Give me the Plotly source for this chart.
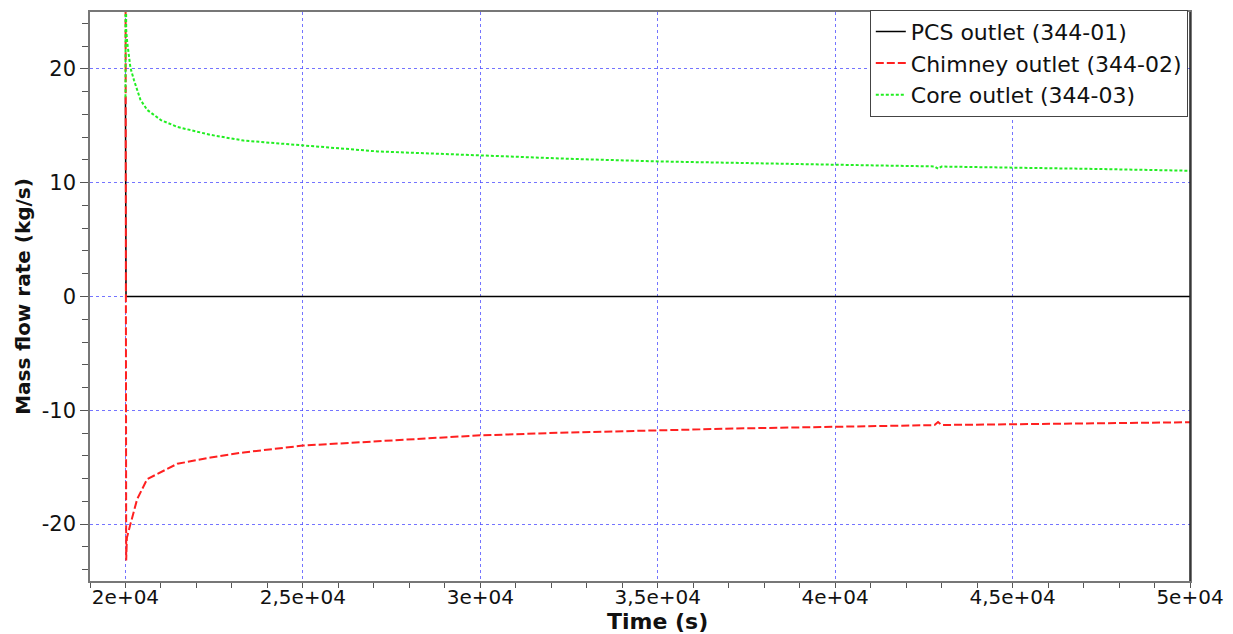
import plotly.graph_objects as go

# ---------------- data ----------------
pcs_x = [20000, 20015, 50000]
pcs_y = [17.5, 0.0, 0.0]

chimney_x = [20000, 20020, 20040, 20140, 20330, 20610, 21000, 21460, 22400, 23330,
             25000, 27100, 30000, 32500, 35000, 37500, 40000, 42800, 42900, 43000,
             45000, 47500, 50000]
chimney_y = [35.0, -23.2, -21.2, -20.0, -17.8, -16.05, -15.4, -14.7, -14.15, -13.7,
             -13.1, -12.7, -12.2, -11.95, -11.75, -11.58, -11.45, -11.3, -11.03, -11.29,
             -11.23, -11.15, -11.05]

core_x = [20000, 20005, 20020, 20050, 20140, 20240, 20420, 20610, 21000, 21460, 22400,
          23330, 25000, 27100, 30000, 32500, 35000, 37500, 40000, 42800, 42900, 43000,
          45000, 47500, 50000]
core_y = [17.5, 35.0, 23.4, 22.3, 20.1, 19.0, 17.3, 16.4, 15.5, 14.9, 14.2,
          13.7, 13.3, 12.75, 12.4, 12.1, 11.87, 11.7, 11.58, 11.43, 11.23, 11.42,
          11.34, 11.2, 11.05]

x_tickvals = [20000, 25000, 30000, 35000, 40000, 45000, 50000]
x_ticktext = ["2e+04", "2,5e+04", "3e+04", "3,5e+04", "4e+04", "4,5e+04", "5e+04"]
y_tickvals = [-20, -10, 0, 10, 20]
y_ticktext = ["-20", "-10", "0", "10", "20"]

names = ["PCS outlet (344-01)", "Chimney outlet (344-02)", "Core outlet (344-03)"]
x_title = "Time (s)"
y_title = "Mass flow rate (kg/s)"

# ---------------- figure ----------------
FONT = "DejaVu Sans"
fig = go.Figure()
fig.add_trace(go.Scatter(x=pcs_x, y=pcs_y, mode="lines", name=names[0],
                         line=dict(color="#000000", width=1.5)))
fig.add_trace(go.Scatter(x=chimney_x, y=chimney_y, mode="lines", name=names[1],
                         line=dict(color="#ff2020", width=2, dash="8px,3px")))
fig.add_trace(go.Scatter(x=core_x, y=core_y, mode="lines", name=names[2],
                         line=dict(color="#22ee22", width=2, dash="3px,2px")))

grid = dict(showgrid=True, gridcolor="rgba(70,70,255,0.75)", gridwidth=1, griddash="dot")
fig.update_layout(
    width=1225, height=626,
    paper_bgcolor="white", plot_bgcolor="white",
    margin=dict(l=82, r=43, t=4, b=53, autoexpand=False),
    font=dict(family=FONT, color="#111111", size=22),
    showlegend=True,
    legend=dict(x=0.998, y=1.004, xanchor="right", yanchor="top",
                bgcolor="white", bordercolor="#444444", borderwidth=1,
                font=dict(family=FONT, size=22, color="#111111"),
                itemwidth=30, tracegroupgap=0),
    xaxis=dict(range=[19000, 50000], tickvals=x_tickvals, ticktext=x_ticktext,
               automargin=False,
               ticks="outside", ticklen=5, tickcolor="#555555", tickwidth=1,
               ticklabelstandoff=-8,
               showline=True, linecolor="#777777", linewidth=1.5, mirror=True,
               zeroline=False, tickfont=dict(size=20),
               minor=dict(dtick=1000, tick0=0, ticks="outside", ticklen=5,
                          tickcolor="#555555", showgrid=False),
               **grid),
    yaxis=dict(range=[-25, 25], tickvals=y_tickvals, ticktext=y_ticktext,
               automargin=False,
               ticks="outside", ticklen=8, tickcolor="#555555", tickwidth=1,
               showline=True, linecolor="#777777", linewidth=1.5, mirror=True,
               zeroline=False, tickfont=dict(size=21),
               minor=dict(dtick=2, tick0=0, ticks="outside", ticklen=6,
                          tickcolor="#555555", showgrid=False),
               title=dict(text="<b>" + y_title + "</b>", font=dict(size=20), standoff=6),
               **grid),
)
# x-axis title placed as in the reference
fig.add_annotation(text="<b>" + x_title + "</b>", xref="paper", yref="paper",
                   x=0.516, y=0, xanchor="center", yanchor="middle", yshift=-40,
                   showarrow=False, font=dict(family=FONT, size=22, color="#111111"))
# darker right border as in reference
fig.add_shape(type="line", xref="x domain", yref="y domain", x0=1, x1=1, y0=0, y1=1,
              line=dict(color="#222222", width=1.5))

fig.write_html("out.html")
